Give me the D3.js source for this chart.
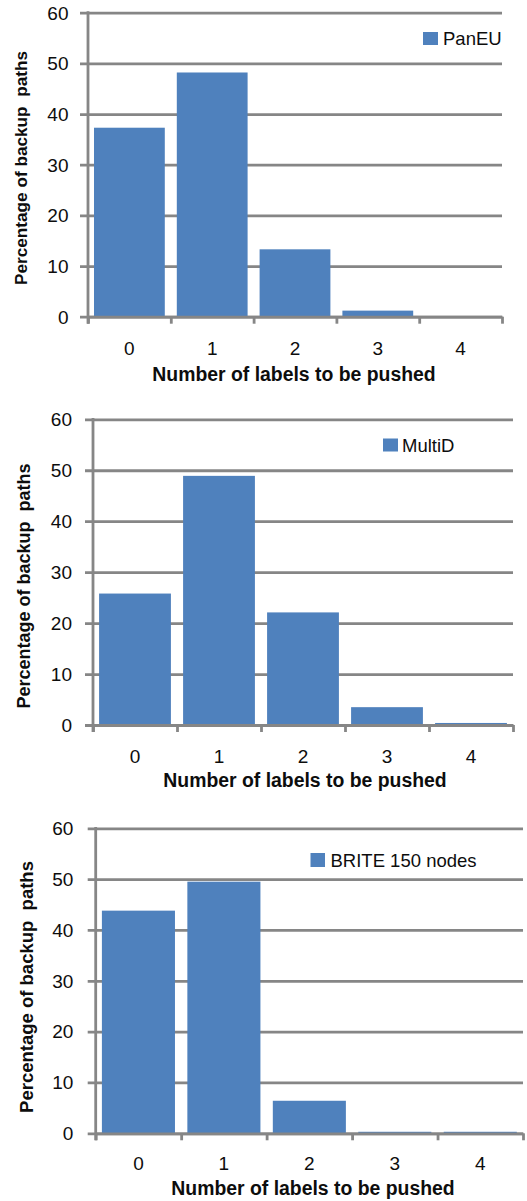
<!DOCTYPE html>
<html>
<head>
<meta charset="utf-8">
<script src="https://cdn.jsdelivr.net/npm/d3@7"></script>
<style>
  html, body { margin: 0; padding: 0; background: #fff; }
  svg { display: block; }
  text { font-family: "Liberation Sans", Arial, sans-serif; fill: #0d0d0d; }
</style>
</head>
<body>
<svg id="chart" width="527" height="1201"></svg>
<script>
// ---- Data ----
const categories = ["0", "1", "2", "3", "4"];
const paneuValues = [37.3, 48.2, 13.3, 1.2, 0];
const multidValues = [25.8, 48.9, 22.1, 3.5, 0.4];
const briteValues = [43.8, 49.5, 6.4, 0.3, 0.3];
const seriesNames = ["PanEU", "MultiD", "BRITE 150 nodes"];
const yTicks = [0, 10, 20, 30, 40, 50, 60];
const xTitle = "Number of labels to be pushed";
const yTitle = "Percentage of backup  paths";

const seriesValues = [paneuValues, multidValues, briteValues];

// ---- Layout (per panel) ----
const panels = [
  { left: 88, right: 502, top: 12.7, bottom: 316.7, tickRight: 68.5, xTickBase: 355, xTitleBase: 381, xTitleCX: 294,
    yTitleX: 27, yTitleCY: 168, yTitleSize: 17.2, lg: { x: 423, y: 32, w: 15, h: 13, tx: 443, ty: 45 } },
  { left: 93, right: 513, top: 419.3, bottom: 725, tickRight: 72, xTickBase: 763, xTitleBase: 787, xTitleCX: 305,
    yTitleX: 30, yTitleCY: 586, yTitleSize: 18, lg: { x: 383, y: 438.5, w: 15, h: 13, tx: 402, ty: 452 } },
  { left: 95.7, right: 523, top: 828.3, bottom: 1133.3, tickRight: 73.3, xTickBase: 1170, xTitleBase: 1195, xTitleCX: 313,
    yTitleX: 33, yTitleCY: 987, yTitleSize: 18.5, lg: { x: 310.5, y: 853, w: 14.5, h: 14, tx: 330.5, ty: 867 } }
];

const gridColor = "#868686";
const barColor = "#4F81BD";
const svg = d3.select("#chart");

panels.forEach((p, i) => {
  const values = seriesValues[i];
  const g = svg.append("g");

  const y = d3.scaleLinear().domain([0, 60]).range([p.bottom, p.top]);
  const x = d3.scaleBand().domain(categories).range([p.left, p.right]).paddingInner(0.145).paddingOuter(0.0725);
  const xb = d3.scaleLinear().domain([0, categories.length]).range([p.left, p.right]);

  // gridlines + y ticks
  const yAxis = d3.axisLeft(y).tickValues(yTicks).tickSize(-(p.right - p.left + 8)).tickFormat("").tickSizeOuter(0);
  const ya = g.append("g").attr("transform", `translate(${p.left - 8},0)`).call(yAxis);
  ya.select(".domain").remove();
  ya.selectAll("line").attr("stroke", gridColor).attr("stroke-width", 2.8);

  // y tick labels
  g.selectAll(".ytl").data(yTicks).join("text")
    .attr("x", p.tickRight).attr("y", d => y(d)).attr("dy", "0.36em")
    .attr("text-anchor", "end").attr("font-size", 19).text(d => d);

  // bars
  g.selectAll(".bar").data(values).join("rect")
    .attr("x", (d, k) => x(categories[k]))
    .attr("width", x.bandwidth())
    .attr("y", d => y(d))
    .attr("height", d => y(0) - y(d))
    .attr("fill", barColor);

  // x axis with boundary ticks
  const xAxis = d3.axisBottom(xb).tickValues(d3.range(0, categories.length + 1)).tickSize(7).tickFormat("").tickSizeOuter(0);
  const xa = g.append("g").attr("transform", `translate(0,${p.bottom})`).call(xAxis);
  xa.select(".domain").attr("stroke", gridColor).attr("stroke-width", 2.8);
  xa.selectAll("line").attr("stroke", gridColor).attr("stroke-width", 2.8);

  // vertical axis line
  g.append("line").attr("x1", p.left).attr("x2", p.left).attr("y1", p.top - 1.4).attr("y2", p.bottom + 7)
    .attr("stroke", gridColor).attr("stroke-width", 2.8);

  // x tick labels
  g.selectAll(".xtl").data(categories).join("text")
    .attr("x", d => x(d) + x.bandwidth() / 2).attr("y", p.xTickBase)
    .attr("text-anchor", "middle").attr("font-size", 19).text(d => d);

  // x title
  g.append("text").attr("x", p.xTitleCX).attr("y", p.xTitleBase)
    .attr("text-anchor", "middle").attr("font-size", 19.4).attr("font-weight", "bold").text(xTitle);

  // y title
  g.append("text")
    .attr("transform", `translate(${p.yTitleX},${p.yTitleCY}) rotate(-90)`)
    .attr("text-anchor", "middle").attr("font-size", p.yTitleSize).attr("font-weight", "bold")
    .style("white-space", "pre").text(yTitle);

  // legend
  g.append("rect").attr("x", p.lg.x).attr("y", p.lg.y).attr("width", p.lg.w).attr("height", p.lg.h).attr("fill", barColor);
  g.append("text").attr("x", p.lg.tx).attr("y", p.lg.ty).attr("font-size", 18.5).text(seriesNames[i]);
});
</script>
</body>
</html>
